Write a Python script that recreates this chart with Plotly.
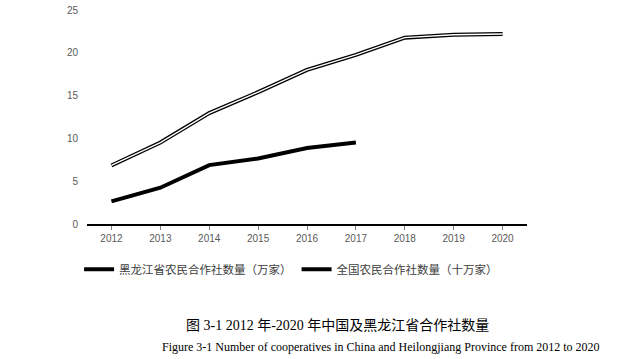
import plotly.graph_objects as go

years = ["2012", "2013", "2014", "2015", "2016", "2017", "2018", "2019", "2020"]
hlj = [2.64, 4.24, 6.88, 7.66, 8.87, 9.52, None, None, None]
national = [6.84, 9.52, 12.95, 15.4, 18.0, 19.75, 21.77, 22.1, 22.2]

name_hlj = "黑龙江省农民合作社数量（万家）"
name_nat = "全国农民合作社数量（十万家）"

fig = go.Figure()
fig.add_trace(go.Scatter(x=years, y=hlj, mode="lines", name=name_hlj,
                         line=dict(color="black", width=4), connectgaps=False))
fig.add_trace(go.Scatter(x=years, y=national, mode="lines", name=name_nat,
                         line=dict(color="black", width=4)))
fig.add_trace(go.Scatter(x=years, y=national, mode="lines", showlegend=False,
                         line=dict(color="white", width=1.4), hoverinfo="skip"))

fig.update_layout(
    width=632, height=359,
    margin=dict(l=87, r=105, t=10, b=135, autoexpand=False),
    paper_bgcolor="white", plot_bgcolor="white",
    showlegend=True,
    legend=dict(orientation="h", x=-0.018, y=-0.144, xanchor="left", yanchor="top",
                font=dict(family="Noto Sans CJK SC", size=11.5, color="#404040"),
                itemwidth=30, tracegroupgap=0, bgcolor="rgba(0,0,0,0)"),
    xaxis=dict(type="category", range=[-0.5, 8.5], autorange=False, showgrid=False,
               showline=True, linecolor="black",
               linewidth=2, ticks="outside", ticklen=4, tickcolor="#808080",
               tickfont=dict(family="Liberation Sans", size=10, color="#595959")),
    yaxis=dict(range=[0, 25], dtick=5, showgrid=False, showline=False, zeroline=False,
               ticks="", tickfont=dict(family="Liberation Sans", size=10, color="#595959"),
               ticklabelstandoff=8),
    annotations=[
        dict(text="图 3-1 2012 年-2020 年中国及黑龙江省合作社数量", xref="paper", yref="paper",
             x=(337 - 87) / 440, y=(224 - 325) / 214, xanchor="center", yanchor="middle",
             showarrow=False, font=dict(family="Liberation Serif, Noto Sans CJK SC", size=14, color="black")),
        dict(text="Figure 3-1 Number of cooperatives in China and Heilongjiang Province from 2012 to 2020",
             xref="paper", yref="paper",
             x=(381 - 87) / 440, y=(224 - 347) / 214, xanchor="center", yanchor="middle",
             showarrow=False, font=dict(family="Liberation Serif", size=12, color="black")),
    ],
)

fig.write_html("out.html", config={"displayModeBar": False},
               post_script="document.body.style.margin='0';document.body.style.overflow='hidden';")
